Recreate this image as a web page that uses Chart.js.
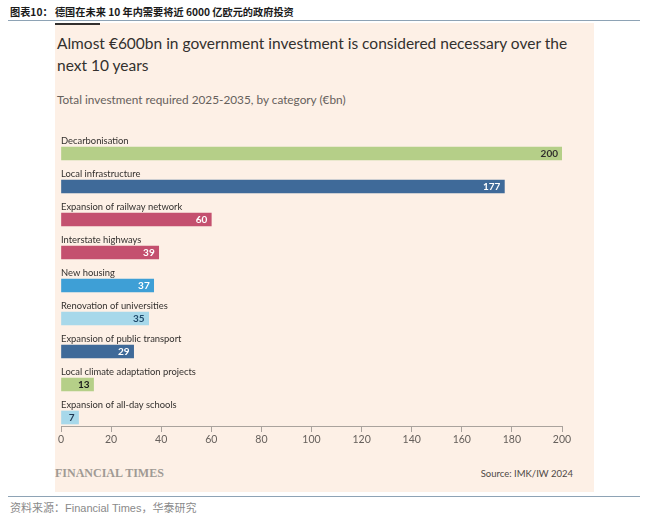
<!DOCTYPE html>
<html>
<head>
<meta charset="utf-8">
<script src="https://cdn.jsdelivr.net/npm/chart.js@4.4.1/dist/chart.umd.min.js"></script>
<style>
  body { margin: 0; width: 650px; height: 516px; background: #fff; position: relative; overflow: hidden; font-family: Lato, sans-serif; }
  .head { position: absolute; left: 10px; top: 4px; font: bold 10.2px "Noto Sans CJK SC", sans-serif; color: #1a1a1a; white-space: nowrap; }
  .rule { position: absolute; left: 8px; width: 632px; height: 1px; background: #8ea3b5; }
  .panel { position: absolute; left: 55px; top: 23px; width: 539px; height: 469px; background: #fdf0e6; }
  .topbar { position: absolute; left: 55px; top: 23px; width: 45px; height: 2px; background: #33302e; }
  .title { position: absolute; left: 57px; top: 32px; font-size: 15.5px; line-height: 22px; color: #33302e; white-space: nowrap; }
  .sub { position: absolute; left: 57px; top: 92px; font-size: 11.8px; color: #66605c; white-space: nowrap; }
  .ft { position: absolute; left: 55px; top: 466px; font: bold 12px "Liberation Serif", serif; color: #a09a94; white-space: nowrap; }
  .src { position: absolute; right: 77px; top: 468px; font-size: 9.5px; color: #4d4845; white-space: nowrap; }
  .foot { position: absolute; left: 10px; top: 499px; font: 11px "Liberation Sans", "Noto Sans CJK SC", sans-serif; color: #8a8a8a; white-space: nowrap; }
  .foot span { font-family: "Noto Sans CJK SC", sans-serif; }
  #chart { position: absolute; left: 55px; top: 128px; }
</style>
</head>
<body>
<div class="head">图表10： 德国在未来 10 年内需要将近 6000 亿欧元的政府投资</div>
<div class="rule" style="top:20px"></div>
<div class="panel"></div>
<div class="topbar"></div>
<div class="title">Almost €600bn in government investment is considered necessary over the<br>next 10 years</div>
<div class="sub">Total investment required 2025-2035, by category (€bn)</div>
<div class="ft">FINANCIAL TIMES</div>
<div class="src">Source: IMK/IW 2024</div>
<div class="rule" style="top:496px"></div>
<div class="foot"><span>资料来源：</span>Financial Times<span>，华泰研究</span></div>
<canvas id="chart" width="539" height="330"></canvas>
<script>
const categories = [
  'Decarbonisation',
  'Local infrastructure',
  'Expansion of railway network',
  'Interstate highways',
  'New housing',
  'Renovation of universities',
  'Expansion of public transport',
  'Local climate adaptation projects',
  'Expansion of all-day schools'
];
const investment = [200, 177, 60, 39, 37, 35, 29, 13, 7];
const xTicks = [0, 20, 40, 60, 80, 100, 120, 140, 160, 180, 200];

// colours per bar and for the number inside it
const barColors = ['#b5cf88', '#3f6a99', '#c4506f', '#c4506f', '#3e9fd6', '#a7d8ea', '#3f6a99', '#b5cf88', '#a7d8ea'];
const valueColors = ['#33302e', '#ffffff', '#ffffff', '#ffffff', '#ffffff', '#1f4a6b', '#ffffff', '#1a1a1a', '#1f3550'];

// category name above each bar, value inside the bar end
const barText = {
  id: 'barText',
  afterDatasetsDraw(chart) {
    const ctx = chart.ctx;
    const meta = chart.getDatasetMeta(0);
    ctx.save();
    meta.data.forEach((bar, i) => {
      ctx.textBaseline = 'middle';
      ctx.font = '9.4px Lato';
      ctx.fillStyle = '#33302e';
      ctx.textAlign = 'left';
      ctx.fillText(categories[i], chart.chartArea.left, bar.y - 13);
      ctx.font = 'bold 10px Lato';
      ctx.fillStyle = valueColors[i];
      ctx.textAlign = 'right';
      ctx.fillText(String(investment[i]), bar.x - 4, bar.y + 0.5);
    });
    ctx.restore();
  }
};

new Chart(document.getElementById('chart'), {
  type: 'bar',
  data: {
    labels: categories,
    datasets: [{
      data: investment,
      backgroundColor: barColors,
      borderWidth: 0,
      barThickness: 13
    }]
  },
  options: {
    indexAxis: 'y',
    responsive: false,
    animation: false,
    layout: { padding: { left: 6, right: 32, top: 9, bottom: 24 } },
    plugins: { legend: { display: false }, tooltip: { enabled: false } },
    scales: {
      y: { display: false },
      x: {
        position: { y: 8.276 },
        min: 0,
        max: 200,
        afterBuildTicks: axis => { axis.ticks = xTicks.map(v => ({ value: v })); },
        grid: { drawOnChartArea: false, drawTicks: true, tickLength: 5, color: '#aaa39d' },
        border: { display: true, color: '#aaa39d', width: 1 },
        ticks: { padding: 1.5, color: '#66605c', font: { family: 'Lato', size: 10.5 } }
      }
    }
  },
  plugins: [barText]
});
</script>
</body>
</html>
